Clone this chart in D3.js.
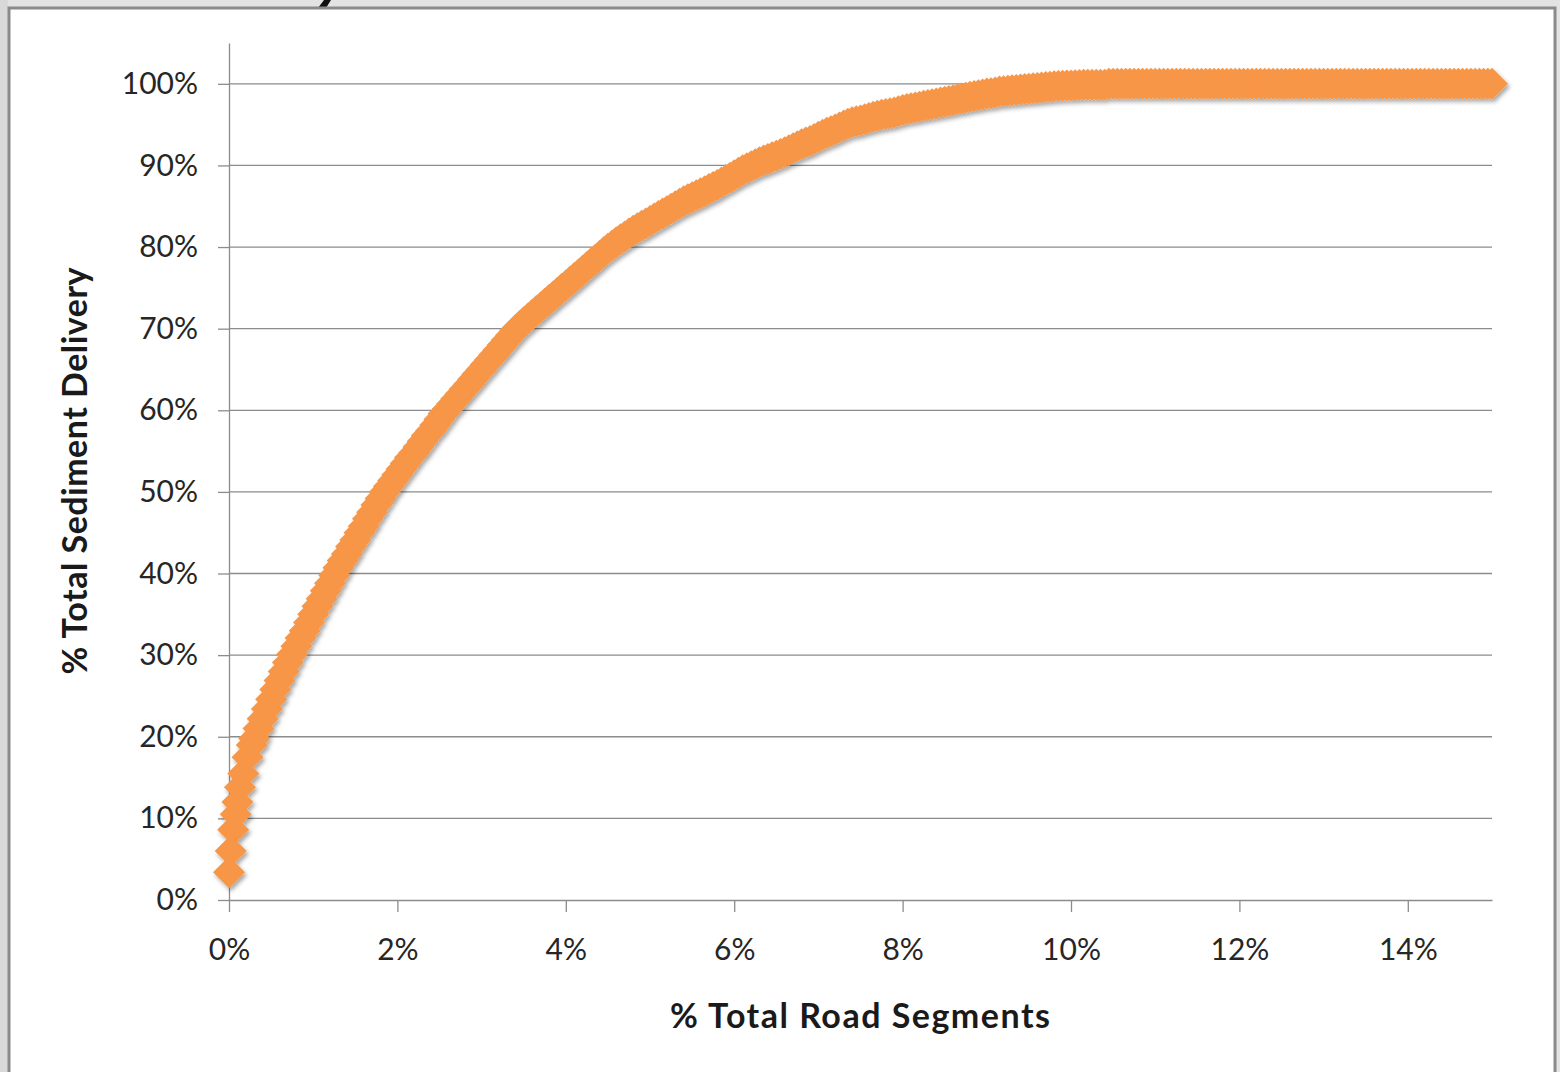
<!DOCTYPE html>
<html>
<head>
<meta charset="utf-8">
<script src="https://cdn.jsdelivr.net/npm/d3@7"></script>
<style>
  html, body { margin: 0; padding: 0; background: #e4e4e4; }
  svg { display: block; }
</style>
</head>
<body>
<svg id="chart" width="1560" height="1072"></svg>
<script>
// ---- Data ----
const xTicks = [0, 2, 4, 6, 8, 10, 12, 14];
const yTicks = [0, 10, 20, 30, 40, 50, 60, 70, 80, 90, 100];
const xLabel = "% Total Road Segments";
const yLabel = "% Total Sediment Delivery";

// [% Total Road Segments, % Total Sediment Delivery] — rising part
const risingPoints = [
  [0.00,3.4],[0.02,6.0],[0.05,8.6],[0.08,10.5],[0.10,12.0],[0.13,13.8],[0.17,15.5],[0.22,17.5],[0.27,19.0],[0.30,19.8],
  [0.35,21.0],[0.40,22.2],[0.45,23.4],[0.50,24.6],[0.55,25.8],[0.60,26.9],[0.65,28.0],[0.70,29.1],[0.75,30.1],[0.80,31.1],
  [0.85,32.1],[0.90,33.0],[0.95,34.0],[1.00,35.0],[1.05,36.0],[1.10,36.9],[1.15,37.9],[1.20,38.8],[1.25,39.8],[1.30,40.7],
  [1.35,41.6],[1.40,42.4],[1.45,43.3],[1.50,44.1],[1.55,45.0],[1.60,45.8],[1.65,46.7],[1.70,47.5],[1.75,48.4],[1.80,49.2],
  [1.85,50.0],[1.90,50.7],[1.95,51.4],[2.00,52.1],[2.05,52.8],[2.10,53.5],[2.15,54.2],[2.20,54.8],[2.25,55.5],[2.30,56.2],
  [2.35,56.9],[2.40,57.5],[2.45,58.2],[2.50,58.9],[2.55,59.6],[2.60,60.2],[2.65,60.8],[2.70,61.4],[2.75,62.0],[2.80,62.6],
  [2.85,63.2],[2.90,63.8],[2.95,64.4],[3.00,65.0],[3.05,65.6],[3.10,66.2],[3.15,66.8],[3.20,67.4],[3.25,68.0],[3.30,68.6],
  [3.35,69.2],[3.40,69.8],[3.45,70.3],[3.50,70.8],[3.55,71.25],[3.60,71.7],[3.65,72.15],[3.70,72.6],[3.75,73.05],[3.80,73.5],
  [3.85,73.95],[3.90,74.4],[3.95,74.85],[4.00,75.3],[4.05,75.75],[4.10,76.2],[4.15,76.65],[4.20,77.1],[4.25,77.55],[4.30,78.0],
  [4.35,78.45],[4.40,78.9],[4.45,79.35],[4.50,79.8],[4.55,80.2],[4.60,80.6],[4.65,80.95],[4.70,81.3],[4.75,81.65],[4.80,82.0],
  [4.85,82.3],[4.90,82.6],[4.95,82.9],[5.00,83.2],[5.05,83.5],[5.10,83.8],[5.15,84.1],[5.20,84.4],[5.25,84.7],[5.30,85.0],
  [5.35,85.3],[5.40,85.6],[5.45,85.85],[5.50,86.1],[5.55,86.35],[5.60,86.6],[5.65,86.85],[5.70,87.1],[5.75,87.35],[5.80,87.6],
  [5.85,87.9],[5.90,88.2],[5.95,88.5],[6.00,88.8],[6.05,89.1],[6.10,89.4],[6.15,89.65],[6.20,89.9],[6.25,90.15],[6.30,90.4],
  [6.35,90.6],[6.40,90.8],[6.45,91.0],[6.50,91.2],[6.55,91.4],[6.60,91.6],[6.65,91.85],[6.70,92.1],[6.75,92.35],[6.80,92.6],
  [6.85,92.8],[6.90,93.0],[6.95,93.25],[7.00,93.5],[7.05,93.75],[7.10,94.0],[7.15,94.2],[7.20,94.4],[7.25,94.65],[7.30,94.9],
  [7.35,95.1],[7.40,95.3],[7.45,95.4],[7.50,95.5],[7.55,95.65],[7.60,95.8],[7.65,95.95],[7.70,96.1],[7.75,96.2],[7.80,96.3],
  [7.85,96.4],[7.90,96.5],[7.95,96.65],[8.00,96.8],[8.05,96.9],[8.10,97.0],[8.15,97.1],[8.20,97.2],[8.25,97.3],[8.30,97.4],
  [8.35,97.5],[8.40,97.6],[8.45,97.7],[8.50,97.8],[8.55,97.9],[8.60,98.0],[8.65,98.1],[8.70,98.2],[8.75,98.3],[8.80,98.4],
  [8.85,98.5],[8.90,98.6],[8.95,98.7],[9.00,98.8],[9.05,98.85],[9.10,98.95],[9.15,99.05],[9.20,99.1],[9.25,99.15],[9.30,99.2],
  [9.35,99.25],[9.40,99.3],[9.45,99.35],[9.50,99.4],[9.55,99.45],[9.60,99.5],[9.65,99.55],[9.70,99.6],[9.75,99.65],[9.80,99.7],
  [9.85,99.72],[9.90,99.75],[9.95,99.78],[10.00,99.8],[10.05,99.82],[10.10,99.85],[10.15,99.87],[10.20,99.9],[10.25,99.9],[10.30,99.9],
  [10.35,99.9],[10.40,99.9]
];
// plateau: % Total Road Segments where delivery stays at 100%
const plateauRoadPct = [
  10.45,10.50,10.55,10.60,10.65,10.70,10.75,10.80,10.85,10.90,10.95,
  11.00,11.05,11.10,11.15,11.20,11.25,11.30,11.35,11.40,11.45,11.50,11.55,11.60,11.65,11.70,11.75,11.80,11.85,11.90,11.95,
  12.00,12.05,12.10,12.15,12.20,12.25,12.30,12.35,12.40,12.45,12.50,12.55,12.60,12.65,12.70,12.75,12.80,12.85,12.90,12.95,
  13.00,13.05,13.10,13.15,13.20,13.25,13.30,13.35,13.40,13.45,13.50,13.55,13.60,13.65,13.70,13.75,13.80,13.85,13.90,13.95,
  14.00,14.05,14.10,14.15,14.20,14.25,14.30,14.35,14.40,14.45,14.50,14.55,14.60,14.65,14.70,14.75,14.80,14.85,14.90,14.95,
  15.00
];
const plateauSedimentPct = 100;

// ---- Layout ----
const W = 1560, H = 1072;
const plot = { left: 229, right: 1492, top: 43, bottom: 900 };
const FONT = "Lato, 'Open Sans', 'DejaVu Sans', sans-serif";
const GRID = "#8c8c8c";
const ORANGE = "#F79646";

const svg = d3.select("#chart");

const defs = svg.append("defs");
const sh = defs.append("filter").attr("id", "shadow")
  .attr("x", "-10%").attr("y", "-10%").attr("width", "120%").attr("height", "120%");
sh.append("feDropShadow").attr("dx", 2).attr("dy", 3).attr("stdDeviation", 2)
  .attr("flood-color", "#000").attr("flood-opacity", 0.35);

// background outside frame
svg.append("rect").attr("x", 0).attr("y", 0).attr("width", W).attr("height", H).attr("fill", "#e3e3e3");
svg.append("rect").attr("x", 0).attr("y", 0).attr("width", 8).attr("height", H).attr("fill", "#d9d9d9");
// fragment of a dark glyph stroke peeking above the frame
svg.append("path").attr("d", "M318,8 L324,0 L331,0 L326,8 Z").attr("fill", "#111");

// white frame
svg.append("rect").attr("x", 9).attr("y", 8).attr("width", 1546).attr("height", H + 20)
  .attr("fill", "#ffffff").attr("stroke", "#8a8a8a").attr("stroke-width", 3);

const x = d3.scaleLinear().domain([0, 15]).range([plot.left, plot.right]);
const y = d3.scaleLinear().domain([0, 105]).range([plot.bottom, plot.top]);

// gridlines
svg.append("g").selectAll("line").data(yTicks.filter(d => d > 0)).join("line")
  .attr("x1", plot.left).attr("x2", plot.right)
  .attr("y1", d => y(d)).attr("y2", d => y(d))
  .attr("stroke", GRID).attr("stroke-width", 1.3);

// y axis
const yAxis = svg.append("g").attr("transform", `translate(${plot.left},0)`)
  .call(d3.axisLeft(y).tickValues(yTicks).tickFormat(d => d + "%").tickSize(11).tickSizeOuter(0).tickPadding(20));
yAxis.select(".domain").attr("stroke", GRID).attr("stroke-width", 1.3);
yAxis.selectAll(".tick line").attr("stroke", GRID).attr("stroke-width", 1.3);
yAxis.selectAll(".tick text").attr("font-family", FONT).attr("font-size", 30).attr("fill", "#262626");

// x axis
const xAxis = svg.append("g").attr("transform", `translate(0,${plot.bottom})`)
  .call(d3.axisBottom(x).tickValues(xTicks).tickFormat(d => d + "%").tickSize(12).tickSizeOuter(0).tickPadding(27));
xAxis.select(".domain").attr("stroke", GRID).attr("stroke-width", 1.3);
xAxis.selectAll(".tick line").attr("stroke", GRID).attr("stroke-width", 1.3);
xAxis.selectAll(".tick text").attr("font-family", FONT).attr("font-size", 30).attr("fill", "#262626");

// axis titles
svg.append("text").attr("x", 860).attr("y", 1028).attr("text-anchor", "middle")
  .attr("font-family", FONT).attr("font-weight", "bold").attr("font-size", 34).attr("fill", "#1a1a1a")
  .attr("textLength", 380).attr("lengthAdjust", "spacing")
  .text(xLabel);
svg.append("text").attr("transform", "translate(87,471) rotate(-90)").attr("text-anchor", "middle")
  .attr("font-family", FONT).attr("font-weight", "bold").attr("font-size", 34).attr("fill", "#1a1a1a")
  .attr("textLength", 407).attr("lengthAdjust", "spacing")
  .text(yLabel);

// markers (diamonds)
const r = 16;
const diamond = `M0,${-r}L${r},0L0,${r}L${-r},0Z`;
const pts = risingPoints.map(([a, b]) => ({ x: a, y: b }))
  .concat(plateauRoadPct.map(a => ({ x: a, y: plateauSedimentPct })));
svg.append("g").attr("filter", "url(#shadow)")
  .selectAll("path").data(pts).join("path")
  .attr("d", diamond)
  .attr("transform", d => `translate(${x(d.x)},${y(d.y)})`)
  .attr("fill", ORANGE);
</script>
</body>
</html>
